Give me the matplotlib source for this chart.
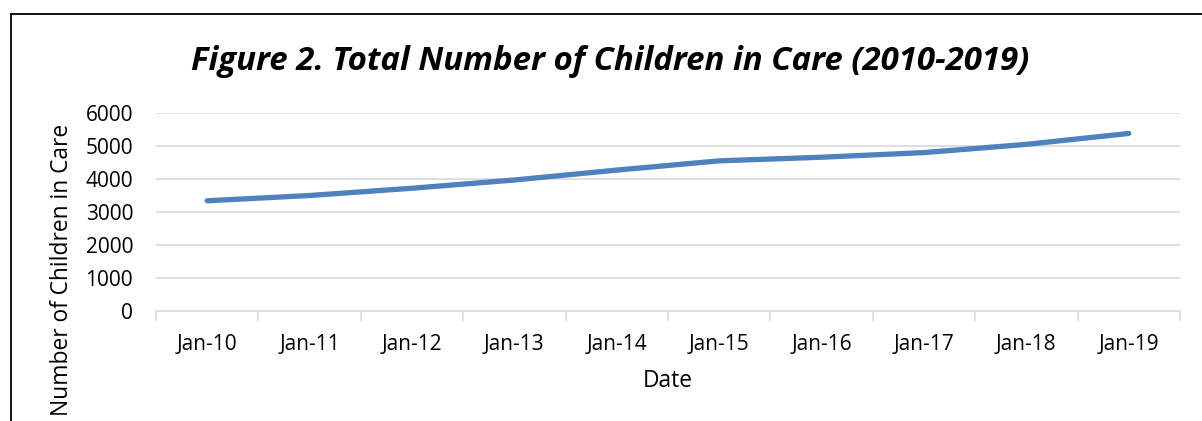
import matplotlib.pyplot as plt
from matplotlib.lines import Line2D

# datos
fechas = ["Jan-10", "Jan-11", "Jan-12", "Jan-13", "Jan-14",
          "Jan-15", "Jan-16", "Jan-17", "Jan-18", "Jan-19"]
ninos = [3340, 3500, 3720, 3970, 4270, 4550, 4660, 4800, 5050, 5380]
y_ticks = [0, 1000, 2000, 3000, 4000, 5000, 6000]

plt.rcParams['font.family'] = ['Open Sans', 'DejaVu Sans']
gris = "#D9D9D9"

fig = plt.figure(figsize=(12.02, 4.21), dpi=100)
ax = fig.add_axes([156/1202, 1 - 311/421, (1180 - 156)/1202, (311 - 113)/421])

x = list(range(len(fechas)))
ax.plot(x, ninos, color="#4F81BD", lw=3.8, solid_capstyle="round",
        solid_joinstyle="round", zorder=3)

ax.set_xlim(-0.5, len(fechas) - 0.5)
ax.set_ylim(0, 6000)
ax.set_yticks(y_ticks)
ax.set_xticks(x)
ax.set_xticklabels(fechas)
ax.set_xticks([i - 0.5 for i in range(len(fechas) + 1)], minor=True)
ax.tick_params(axis="x", which="major", length=0, pad=16.5, labelsize=15)
ax.tick_params(axis="x", which="minor", length=7, width=1.2, color=gris, direction="out")
ax.tick_params(axis="y", length=0, pad=16.5, labelsize=15)

ax.grid(axis="y", color=gris, lw=1.2, zorder=0)
for s in ["top", "right", "left"]:
    ax.spines[s].set_visible(False)
ax.spines["bottom"].set_color(gris)
ax.spines["bottom"].set_linewidth(1.2)

fig.text(610/1202, 1 - 62/421, "Figure 2. Total Number of Children in Care (2010-2019)",
         ha="center", va="center", fontsize=23.8, fontweight="bold", fontstyle="italic")
fig.text(668/1202, 1 - 381/421, "Date", ha="center", va="center", fontsize=16.4)
fig.text(62/1202, 1 - 270/421, "Number of Children in Care", ha="center", va="center",
         rotation=90, fontsize=16.4)

# borde negro del grafico (solo se ve arriba e izquierda)
fig.add_artist(Line2D([11/1202, 11/1202], [0, 1 - 14/421], color="black", lw=1.3,
                      transform=fig.transFigure))
fig.add_artist(Line2D([11/1202, 1], [1 - 14/421, 1 - 14/421], color="black", lw=1.3,
                      transform=fig.transFigure))

fig.savefig("out.png", dpi=100)
